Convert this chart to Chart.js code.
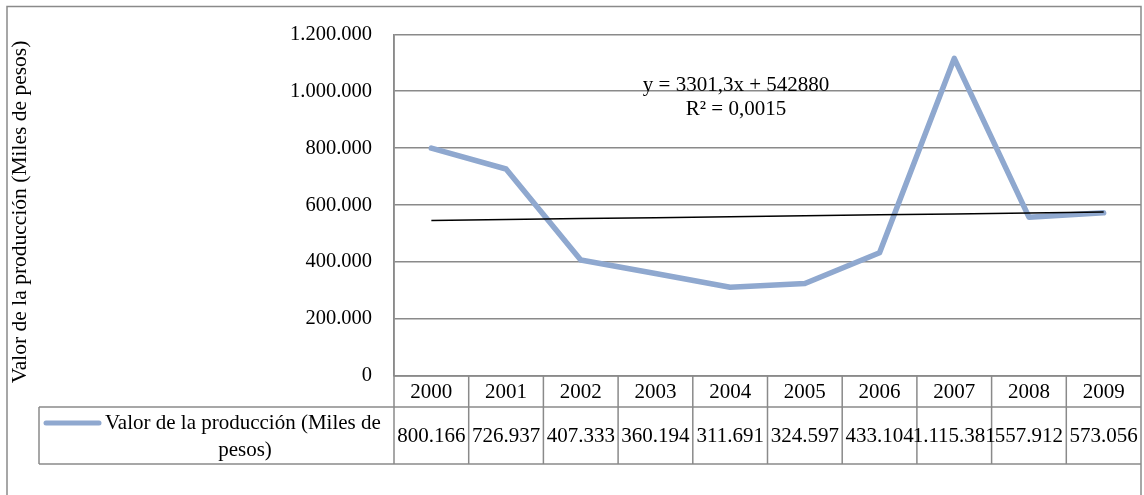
<!DOCTYPE html>
<html>
<head>
<meta charset="utf-8">
<script src="https://cdn.jsdelivr.net/npm/chart.js@4.4.0/dist/chart.umd.min.js"></script>
<style>
  html, body { margin: 0; padding: 0; background: #ffffff; }
  #wrap { width: 1144px; height: 495px; position: relative; }
</style>
</head>
<body>
<div id="wrap"><canvas id="c" width="1144" height="495"></canvas></div>
<script>
// ---- data ----
const years = ['2000', '2001', '2002', '2003', '2004', '2005', '2006', '2007', '2008', '2009'];
const produccion = [800166, 726937, 407333, 360194, 311691, 324597, 433104, 1115381, 557912, 573056];
const seriesName = 'Valor de la producción (Miles de pesos)';
const legendLines = ['Valor de la producción (Miles de', 'pesos)'];
const yTitle = 'Valor de la producción (Miles de pesos)';
const trendSlope = 3301.3;
const trendIntercept = 542880;
const trendLabel = ['y = 3301,3x + 542880', 'R² = 0,0015'];
const yMin = 0, yMax = 1200000, yStep = 200000;

const trendValues = years.map((_, i) => trendSlope * (i + 1) + trendIntercept);

const FONT = '"Liberation Serif", "Times New Roman", serif';
const GRID = '#8a8a8a';

function fmt(v) {
  return String(Math.round(v)).replace(/\B(?=(\d{3})+(?!\d))/g, '.');
}

const tablePlugin = {
  id: 'tablePlugin',
  afterDraw(chart) {
    const ctx = chart.ctx;
    const xs = chart.scales.x;
    const area = chart.chartArea;
    const L = area.left, R = 1141;
    const top = area.bottom, mid = 407, bot = 464, legL = 39;
    const colW = (xs.getPixelForValue(1) - xs.getPixelForValue(0));
    ctx.save();
    ctx.strokeStyle = GRID;
    ctx.lineWidth = 1.5;
    // outer frame
    ctx.beginPath();
    ctx.moveTo(7, 495); ctx.lineTo(7, 6.5); ctx.lineTo(1141, 6.5); ctx.lineTo(1141, 495);
    ctx.stroke();
    // table rows
    ctx.beginPath();
    ctx.moveTo(L, top); ctx.lineTo(R, top);
    ctx.moveTo(legL, mid); ctx.lineTo(R, mid);
    ctx.moveTo(legL, bot); ctx.lineTo(R, bot);
    ctx.moveTo(legL, mid); ctx.lineTo(legL, bot);
    ctx.moveTo(L, area.top); ctx.lineTo(L, bot);
    for (let i = 1; i < years.length; i++) {
      const bx = xs.getPixelForValue(i) - colW / 2;
      ctx.moveTo(bx, top); ctx.lineTo(bx, bot);
    }
    ctx.stroke();
    // texts
    ctx.fillStyle = '#000';
    ctx.font = '21px ' + FONT;
    ctx.textAlign = 'center';
    ctx.textBaseline = 'middle';
    years.forEach((y, i) => {
      const cx = xs.getPixelForValue(i);
      ctx.fillText(y, cx, 392);
      ctx.fillText(fmt(produccion[i]), cx, 436);
    });
    // legend key
    ctx.strokeStyle = '#8FA8CF';
    ctx.lineWidth = 5;
    ctx.lineCap = 'round';
    ctx.beginPath();
    ctx.moveTo(46, 423); ctx.lineTo(99, 423);
    ctx.stroke();
    ctx.textAlign = 'left';
    ctx.fillText(legendLines[0], 105, 423);
    ctx.textAlign = 'center';
    ctx.fillText(legendLines[1], 245, 450);
    // trend label
    ctx.fillText(trendLabel[0], 736, 85);
    ctx.fillText(trendLabel[1], 736, 109);
    // y axis title
    ctx.save();
    ctx.translate(20, 212);
    ctx.rotate(-Math.PI / 2);
    ctx.font = '21.5px ' + FONT;
    ctx.fillText(yTitle, 0, 0);
    ctx.restore();
    ctx.restore();
  }
};

new Chart(document.getElementById('c'), {
  type: 'line',
  data: {
    labels: years,
    datasets: [
      {
        label: seriesName,
        data: produccion,
        borderColor: '#8FA8CF',
        borderWidth: 5.5,
        pointRadius: 0,
        tension: 0,
        borderJoinStyle: 'round',
        borderCapStyle: 'round',
        order: 2
      },
      {
        label: 'Tendencia',
        data: trendValues,
        borderColor: '#000000',
        borderWidth: 1.5,
        pointRadius: 0,
        tension: 0,
        order: 1
      }
    ]
  },
  options: {
    responsive: false,
    animation: false,
    devicePixelRatio: 1,
    layout: { padding: { left: 0, top: 31, right: 3, bottom: 119 } },
    plugins: { legend: { display: false }, tooltip: { enabled: false } },
    scales: {
      x: {
        display: false,
        offset: true
      },
      y: {
        min: yMin,
        max: yMax,
        afterFit(scale) { scale.width = 394; },
        ticks: {
          stepSize: yStep,
          padding: 22,
          color: '#000',
          font: { family: FONT, size: 20.5 },
          callback: (v) => fmt(v)
        },
        grid: { color: GRID, lineWidth: 1.5, drawTicks: false },
        border: { display: true, color: GRID, width: 1.5 },
        title: { display: false }
      }
    }
  },
  plugins: [tablePlugin]
});
</script>
</body>
</html>
